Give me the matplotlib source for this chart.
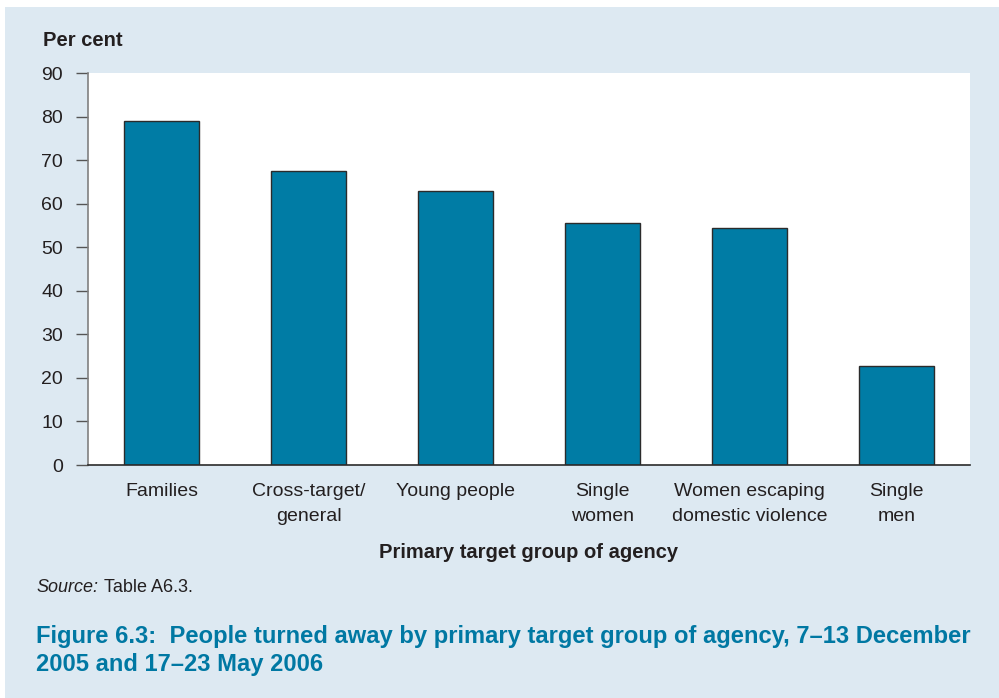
import matplotlib
matplotlib.use("Agg")
import matplotlib.pyplot as plt
from matplotlib.patches import Rectangle

# people turned away, by primary target group of agency (per cent)
groups = ["Families", "Cross-target/\ngeneral", "Young people", "Single\nwomen",
          "Women escaping\ndomestic violence", "Single\nmen"]
turned_away = [79.0, 67.5, 62.9, 55.6, 54.5, 22.7]
yticks = [0, 10, 20, 30, 40, 50, 60, 70, 80, 90]

panel = "#dde9f2"
bar_col = "#007ca5"
title_col = "#0078a3"
txt = "#231f20"

plt.rcParams['font.family'] = ['Liberation Sans', 'DejaVu Sans']

fig = plt.figure(figsize=(9.99, 6.98), dpi=100)
fig.patch.set_facecolor("white")
W, H = 999, 698
# light blue panel behind everything
fig.add_artist(Rectangle((5 / W, 0), 1 - 5 / W, 1 - 7 / H,
                         transform=fig.transFigure, facecolor=panel,
                         edgecolor="none", zorder=-10))

ax = fig.add_axes([88 / W, 1 - 465 / H, (970 - 88) / W, (465 - 73) / H])
ax.set_zorder(1)
ax.set_facecolor("white")
x = range(len(groups))
ax.bar(x, turned_away, width=0.51, color=bar_col, edgecolor="#2b2b2b", linewidth=1.0, zorder=3)
ax.set_xlim(-0.5, len(groups) - 0.5)
ax.set_ylim(0, 90)
ax.set_yticks(yticks)
ax.set_yticklabels([str(v) for v in yticks], fontsize=14, color=txt)
ax.set_xticks(list(x))
ax.set_xticklabels(groups, fontsize=14, color=txt, linespacing=1.6)
ax.tick_params(axis="x", length=0, pad=13)
ax.tick_params(axis="y", length=9, width=1, color="#555555", pad=9)
for s in ["top", "right"]:
    ax.spines[s].set_visible(False)
ax.spines["left"].set_color("#808080")
ax.spines["left"].set_linewidth(1.2)
ax.spines["bottom"].set_color("#2b2b2b")
ax.spines["bottom"].set_linewidth(1.2)
ax.spines["bottom"].set_zorder(4)

fig.text(43 / W, 1 - 41 / H, "Per cent", fontsize=14.5, fontweight="bold", color=txt, va="center")
fig.text(529 / W, 1 - 552 / H, "Primary target group of agency", fontsize=14.5,
         fontweight="bold", color=txt, ha="center", va="center")
fig.text(36 / W, 1 - 587 / H, "Source:", fontsize=13, style="italic", color=txt, va="center")
fig.text(104 / W, 1 - 587 / H, "Table A6.3.", fontsize=13, color=txt, va="center")

fig.text(36 / W, 1 - 636 / H, "Figure 6.3:  People turned away by primary target group of agency, 7–13 December",
         fontsize=17.1, fontweight="bold", color=title_col, va="center")
fig.text(36 / W, 1 - 664 / H, "2005 and 17–23 May 2006",
         fontsize=17.1, fontweight="bold", color=title_col, va="center")

fig.savefig("out.png", dpi=100, facecolor=fig.get_facecolor())
